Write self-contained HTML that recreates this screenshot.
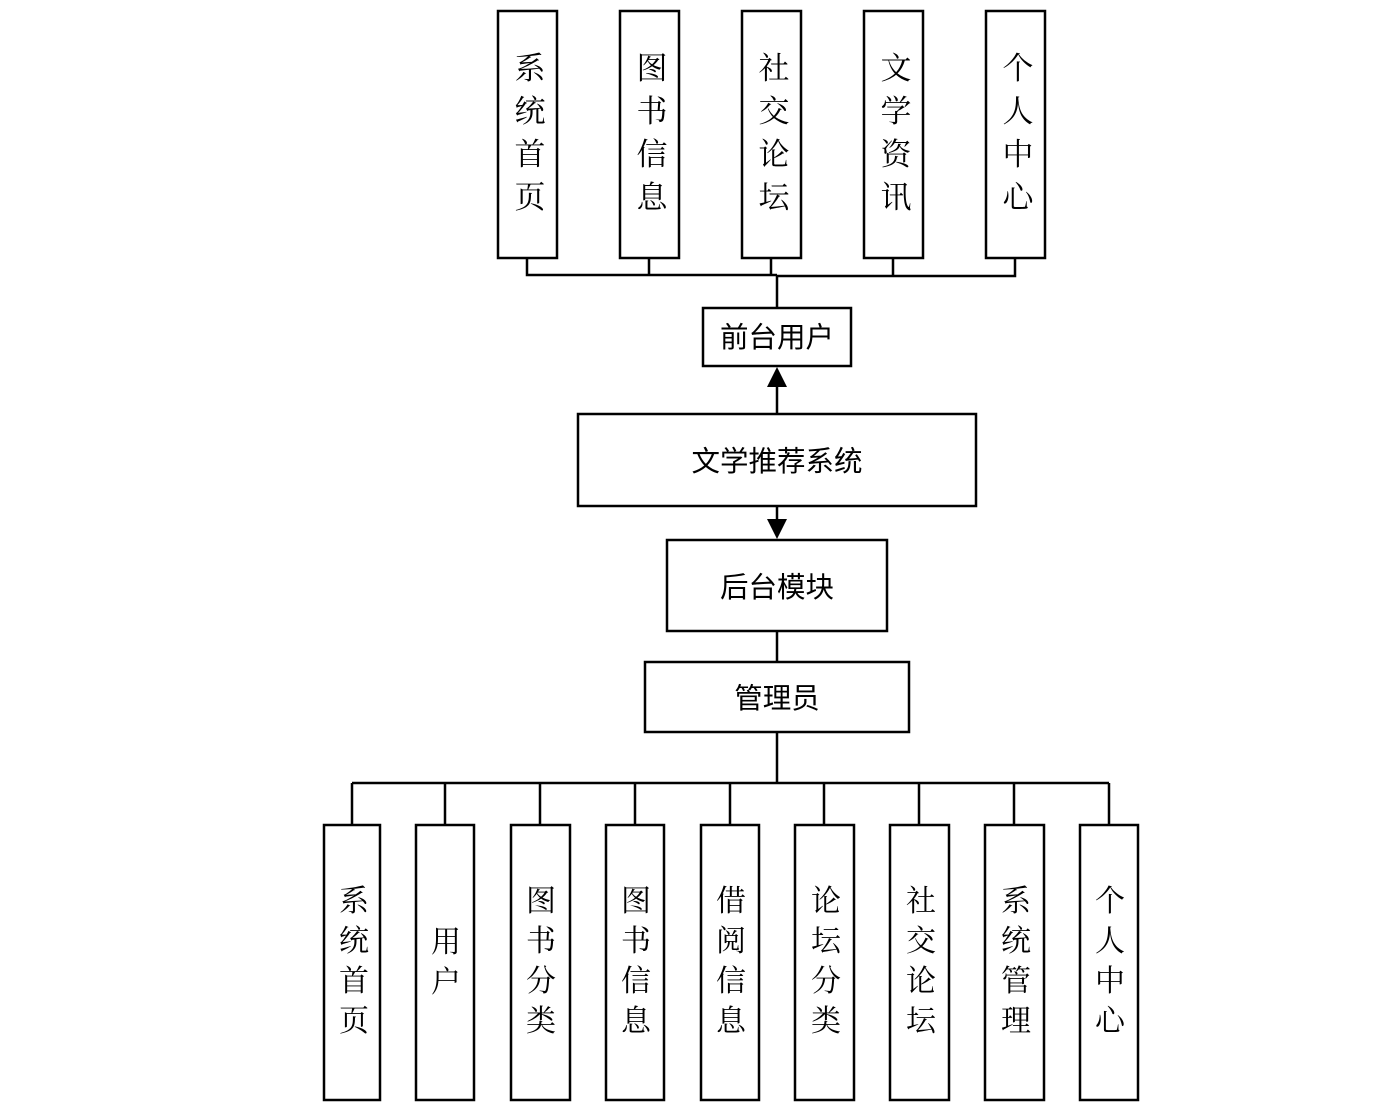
<!DOCTYPE html>
<html><head><meta charset="utf-8"><style>
html,body{margin:0;padding:0;background:#fff;}
svg{display:block;}
.v{font-family:"Liberation Serif","Noto Serif CJK SC",serif;font-size:31px;fill:#000;text-anchor:middle;}
.h{font-family:"Liberation Sans","Noto Sans CJK SC",sans-serif;font-size:28.5px;font-weight:normal;fill:#000;text-anchor:middle;}
</style></head><body>
<svg width="1373" height="1117" viewBox="0 0 1373 1117" xmlns="http://www.w3.org/2000/svg">
<g fill="#fff" stroke="#000" stroke-width="2.5">
<rect x="498" y="11" width="59" height="247"/>
<rect x="620" y="11" width="59" height="247"/>
<rect x="742" y="11" width="59" height="247"/>
<rect x="864" y="11" width="59" height="247"/>
<rect x="986" y="11" width="59" height="247"/>
<rect x="703" y="308" width="148" height="58"/>
<rect x="578" y="414" width="398" height="92"/>
<rect x="667" y="540" width="220" height="91"/>
<rect x="645" y="662" width="264" height="70"/>
<rect x="324" y="825" width="56" height="275"/>
<rect x="416" y="825" width="58" height="275"/>
<rect x="511" y="825" width="59" height="275"/>
<rect x="606" y="825" width="58" height="275"/>
<rect x="701" y="825" width="58" height="275"/>
<rect x="795" y="825" width="59" height="275"/>
<rect x="890" y="825" width="59" height="275"/>
<rect x="985" y="825" width="59" height="275"/>
<rect x="1080" y="825" width="58" height="275"/>
</g>
<g fill="none" stroke="#000" stroke-width="2.5">
<path d="M527 258V275H777M649 258V275M771 258V275M893 258V276M1015 258V276H777M777 275V308"/>
<path d="M777 414V384"/>
<path d="M777 506V522"/>
<path d="M777 631V662"/>
<path d="M777 732V783M352 783H1109M352 783V825M445 783V825M540 783V825M635 783V825M730 783V825M824 783V825M919 783V825M1014 783V825M1109 783V825"/>
</g>
<polygon points="777,367 767,387 787,387" fill="#000"/>
<polygon points="777,539 767,519 787,519" fill="#000"/>
<g class="v">
<text x="530" y="79">系</text><text x="530" y="122">统</text><text x="530" y="165">首</text><text x="530" y="208">页</text>
<text x="652" y="79">图</text><text x="652" y="122">书</text><text x="652" y="165">信</text><text x="652" y="208">息</text>
<text x="774" y="79">社</text><text x="774" y="122">交</text><text x="774" y="165">论</text><text x="774" y="208">坛</text>
<text x="896" y="79">文</text><text x="896" y="122">学</text><text x="896" y="165">资</text><text x="896" y="208">讯</text>
<text x="1018" y="79">个</text><text x="1018" y="122">人</text><text x="1018" y="165">中</text><text x="1018" y="208">心</text>
</g>
<g class="v" style="font-size:30px">
<text x="354" y="911">系</text><text x="354" y="951">统</text><text x="354" y="991">首</text><text x="354" y="1031">页</text>
<text x="446" y="952">用</text><text x="446" y="992">户</text>
<text x="541" y="911">图</text><text x="541" y="951">书</text><text x="541" y="991">分</text><text x="541" y="1031">类</text>
<text x="636" y="911">图</text><text x="636" y="951">书</text><text x="636" y="991">信</text><text x="636" y="1031">息</text>
<text x="731" y="911">借</text><text x="731" y="951">阅</text><text x="731" y="991">信</text><text x="731" y="1031">息</text>
<text x="826" y="911">论</text><text x="826" y="951">坛</text><text x="826" y="991">分</text><text x="826" y="1031">类</text>
<text x="921" y="911">社</text><text x="921" y="951">交</text><text x="921" y="991">论</text><text x="921" y="1031">坛</text>
<text x="1016" y="911">系</text><text x="1016" y="951">统</text><text x="1016" y="991">管</text><text x="1016" y="1031">理</text>
<text x="1110" y="911">个</text><text x="1110" y="951">人</text><text x="1110" y="991">中</text><text x="1110" y="1031">心</text>
</g>
<g class="h">
<text x="777" y="347">前台用户</text>
<text x="777" y="471">文学推荐系统</text>
<text x="777" y="597">后台模块</text>
<text x="777" y="708">管理员</text>
</g>
</svg>
</body></html>
